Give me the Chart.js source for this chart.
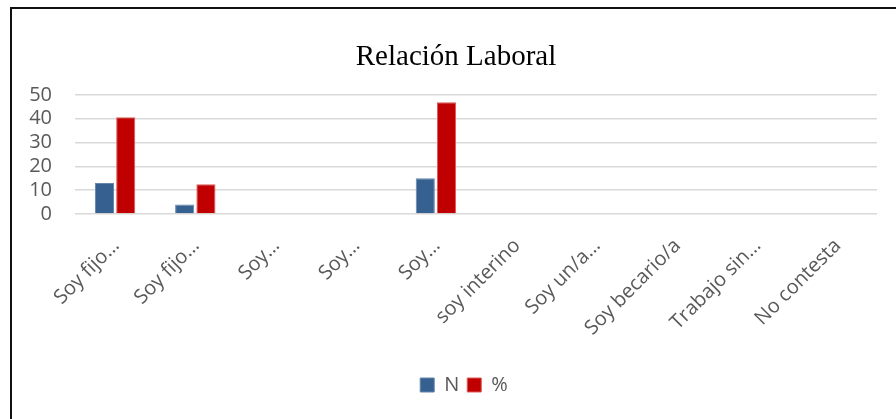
<!DOCTYPE html>
<html><head><meta charset="utf-8">
<script src="https://cdn.jsdelivr.net/npm/chart.js@4"></script>
<style>
html,body{margin:0;padding:0;background:#fff;}
#wrap{position:relative;width:896px;height:419px;overflow:hidden;}
#frame{position:absolute;left:10px;top:7px;width:1000px;height:500px;border-left:2px solid #111;border-top:2px solid #111;pointer-events:none;}
canvas{position:absolute;left:0;top:0;}
</style></head><body>
<div id="wrap"><canvas id="c" width="896" height="419"></canvas><div id="frame"></div></div>
<script>
const categories = ["Soy fijo…","Soy fijo…","Soy…","Soy…","Soy…","soy interino","Soy un/a…","Soy becario/a","Trabajo sin…","No contesta"];
const seriesN = [13,4,0,0,15,0,0,0,0,0];
const seriesPct = [40.6,12.5,0,0,46.9,0,0,0,0,0];
const yTicks = [0,10,20,30,40,50];
const titleText = "Relación Laboral";

const shiftPlugin = {
  id:'shift',
  afterLayout(chart){
    chart.scales.y.left -= 30;
    chart.legend.left += 8; chart.legend.right += 8;
  }
};

new Chart(document.getElementById('c'), {
  type: 'bar',
  data: {
    labels: categories,
    datasets: [
      {label:'N', data: seriesN, backgroundColor:'#35608f', borderColor:'#6585ab', borderWidth:1, categoryPercentage:0.53, barPercentage:0.9},
      {label:'%', data: seriesPct, backgroundColor:'#c00000', borderColor:'#de5a5a', borderWidth:1, categoryPercentage:0.53, barPercentage:0.9}
    ]
  },
  plugins:[shiftPlugin],
  options: {
    responsive:false, animation:false, devicePixelRatio:1,
    layout:{padding:{left:35,right:19,top:0,bottom:14}},
    plugins:{
      title:{display:true,text:titleText,color:'#000',font:{family:'Liberation Serif',size:29,weight:'normal'},padding:{top:40,bottom:20}},
      legend:{position:'bottom',labels:{color:'#595959',boxWidth:14,boxHeight:14,padding:8,font:{family:'Open Sans',size:20}}},
      tooltip:{enabled:false}
    },
    scales:{
      x:{
        grid:{display:false}, border:{display:false},
        ticks:{color:'#595959',font:{family:'Open Sans',size:20},minRotation:45,maxRotation:45,autoSkip:false,padding:12,labelOffset:1},
        afterFit:(s)=>{s.height=153;}
      },
      y:{
        min:0,max:50,
        afterBuildTicks:(s)=>{s.ticks=yTicks.map(v=>({value:v}));},
        grid:{color:'#d9d9d9',lineWidth:1.5,drawTicks:false}, border:{display:false},
        ticks:{color:'#595959',font:{family:'Open Sans',size:20},padding:23,autoSkip:false},
        afterFit:(s)=>{s.width=40;}
      }
    }
  }
});
</script>
</body></html>
